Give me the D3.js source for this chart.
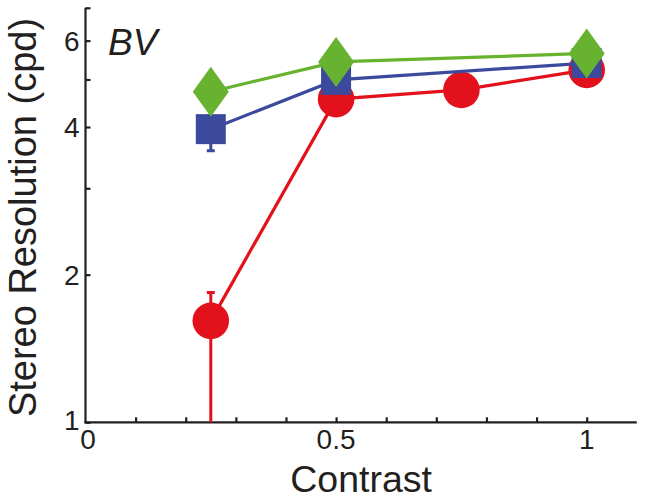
<!DOCTYPE html>
<html>
<head>
<meta charset="utf-8">
<script src="https://cdn.jsdelivr.net/npm/d3@7"></script>
<style>
html,body{margin:0;padding:0;background:#fff;}
svg{display:block;}
text{font-family:"Liberation Sans",Arial,sans-serif;fill:#231f20;}
</style>
</head>
<body>
<script>
// ---- data ----
const contrast = [0.25, 0.5, 0.75, 1.0];
const redValues   = [1.61, 4.56, 4.76, 5.23];
const redErrLow   = [0.80, 4.56, 4.76, 5.23];
const redErrHigh  = [1.84, 4.56, 4.76, 5.23];
const blueContrast = [0.25, 0.5, 1.0];
const blueValues  = [3.96, 4.99, 5.40];
const blueErrLow  = [3.58, 4.99, 5.40];
const blueErrHigh = [4.20, 4.99, 5.40];
const greenContrast = [0.25, 0.5, 1.0];
const greenValues = [4.72, 5.43, 5.65];
const xTicks = [0.1,0.2,0.3,0.4,0.5,0.6,0.7,0.8,0.9,1.0];
const xTickLabels = [0, 0.5, 1];
const yTicks = [1,2,3,4,5,6,7];
const yTickLabels = [1,2,4,6];
const panelLabel = "BV";
const xTitle = "Contrast";
const yTitle = "Stereo Resolution (cpd)";

const W = 645, H = 500;
const svg = d3.select("body").append("svg").attr("width", W).attr("height", H);

const x = d3.scaleLinear().domain([0, 1.1]).range([85.5, 636.8]);
const y = d3.scaleLog().domain([1, 7]).range([422.3, 7.8]);

const ink = "#231f20";
const colRed = "#e3111b", colBlue = "#3c4a9d", colGreen = "#67b22f";

// clip
svg.append("defs").append("clipPath").attr("id","plot")
  .append("rect").attr("x", x(0)).attr("y", 0).attr("width", x(1.1)-x(0)).attr("height", y(1));

// axes
const xAxis = d3.axisBottom(x).tickValues(xTicks).tickSize(-5).tickFormat("");
const gx = svg.append("g").attr("transform", `translate(0,${y(1)})`).call(xAxis);
gx.select(".domain").attr("d", `M${x(0)-1},0H${x(1.1)}`);
const yAxis = d3.axisLeft(y).tickValues(yTicks).tickSize(-5).tickFormat("");
const gy = svg.append("g").attr("transform", `translate(${x(0)},0)`).call(yAxis);
gy.select(".domain").attr("d", `M0,${y(7)}V${y(1)+1}`);
[gx, gy].forEach(g => {
  g.selectAll("path,line").attr("stroke", ink).attr("stroke-width", 2.2);
});

// tick labels
svg.append("g").selectAll("text").data(xTickLabels).join("text")
  .attr("x", d => x(d) + (d === 0 ? 2.5 : 0)).attr("y", 449)
  .attr("text-anchor", "middle").attr("font-size", 28)
  .text(d => d3.format("")(d));
svg.append("g").selectAll("text").data(yTickLabels).join("text")
  .attr("x", 79.5).attr("y", d => y(d) + (d === 1 ? -2 : 0)).attr("dy", "0.355em")
  .attr("text-anchor", "end").attr("font-size", 28)
  .text(d => d);

// titles
svg.append("text").attr("x", x(0.55)).attr("y", 492).attr("text-anchor","middle")
  .attr("font-size", 37.5).text(xTitle);
svg.append("text").attr("transform", "translate(36,217.5) rotate(-90)")
  .attr("text-anchor","middle").attr("font-size", 38).text(yTitle);
svg.append("text").attr("x", 108).attr("y", 55).attr("font-size", 37)
  .attr("font-style","italic").text(panelLabel);

const line = d3.line().x(d => x(d[0])).y(d => y(d[1]));

function errorBars(g, xs, lo, hi, col) {
  const eg = g.append("g").attr("clip-path", "url(#plot)");
  xs.forEach((cx, i) => {
    if (lo[i] === hi[i]) return;
    eg.append("line").attr("x1", x(cx)).attr("x2", x(cx))
      .attr("y1", y(Math.max(lo[i], 0.5))).attr("y2", y(hi[i]))
      .attr("stroke", col).attr("stroke-width", 3);
    [lo[i], hi[i]].forEach(v => {
      if (v < 1) return;
      eg.append("line").attr("x1", x(cx)-4).attr("x2", x(cx)+4)
        .attr("y1", y(v)).attr("y2", y(v))
        .attr("stroke", col).attr("stroke-width", 3);
    });
  });
}

// red series
const gr = svg.append("g");
errorBars(gr, contrast, redErrLow, redErrHigh, colRed);
gr.append("path").datum(d3.zip(contrast, redValues)).attr("d", line)
  .attr("fill","none").attr("stroke", colRed).attr("stroke-width", 3.2);
gr.selectAll("circle").data(d3.zip(contrast, redValues)).join("circle")
  .attr("cx", d => x(d[0])).attr("cy", d => y(d[1])).attr("r", 18.3).attr("fill", colRed);

// blue series
const gb = svg.append("g");
errorBars(gb, blueContrast, blueErrLow, blueErrHigh, colBlue);
gb.append("path").datum(d3.zip(blueContrast, blueValues)).attr("d", line)
  .attr("fill","none").attr("stroke", colBlue).attr("stroke-width", 3.2);
gb.selectAll("rect").data(d3.zip(blueContrast, blueValues)).join("rect")
  .attr("x", d => x(d[0]) - 15).attr("y", d => y(d[1]) - 15)
  .attr("width", 30).attr("height", 30).attr("fill", colBlue);

// green series
const gg = svg.append("g");
gg.append("path").datum(d3.zip(greenContrast, greenValues)).attr("d", line)
  .attr("fill","none").attr("stroke", colGreen).attr("stroke-width", 3.2);
gg.selectAll("path.dia").data(d3.zip(greenContrast, greenValues)).join("path")
  .attr("class","dia")
  .attr("transform", d => `translate(${x(d[0])},${y(d[1])})`)
  .attr("d", "M0,-25L18,0L0,25L-18,0Z").attr("fill", colGreen);
</script>
</body>
</html>
